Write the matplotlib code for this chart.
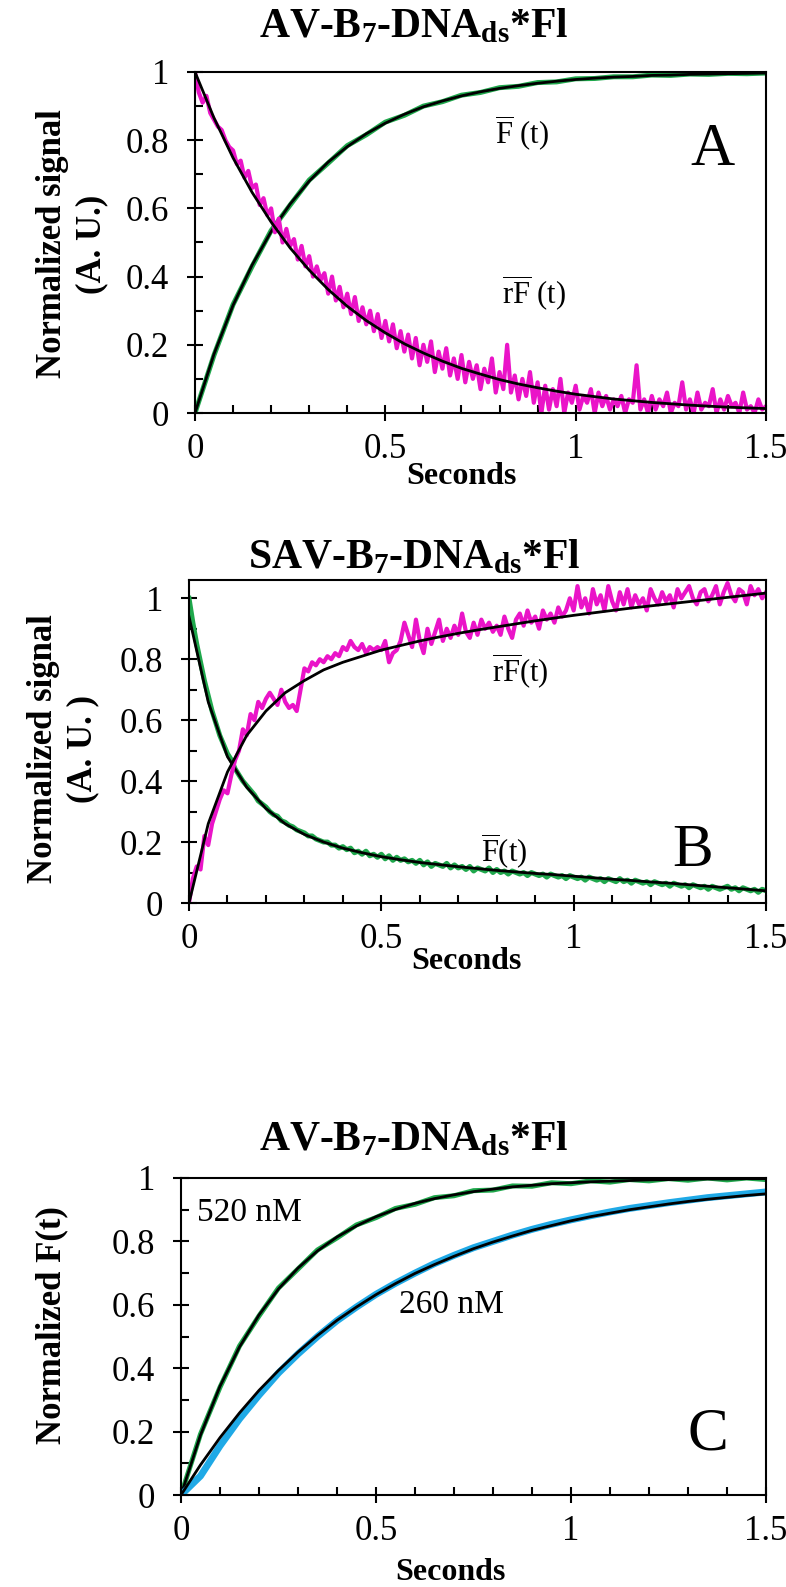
import matplotlib
matplotlib.use("Agg")
import matplotlib.pyplot as plt
from matplotlib.ticker import MultipleLocator

plt.rcParams['font.family'] = ['Liberation Serif', 'DejaVu Serif']
plt.rcParams['mathtext.fontset'] = 'custom'
plt.rcParams['mathtext.rm'] = 'Liberation Serif'
plt.rcParams['mathtext.it'] = 'Liberation Serif:italic'
plt.rcParams['mathtext.bf'] = 'Liberation Serif:bold'

MAGENTA = '#ea14c8'
GREEN = '#1fa84c'
BLUE = '#1fa9e6'

# ---- time grids (s) ----
t_fit = [i * 0.05 for i in range(31)]
t_raw = [i * 0.01 for i in range(151)]

# ---- Panel A: AV-B7-DNAds*Fl ----
a_F_fit = [0.0, 0.173, 0.316, 0.434, 0.532, 0.613, 0.680, 0.736, 0.781, 0.819,
           0.850, 0.876, 0.898, 0.915, 0.930, 0.942, 0.952, 0.960, 0.967, 0.973,
           0.978, 0.982, 0.985, 0.987, 0.990, 0.991, 0.993, 0.994, 0.995, 0.996, 0.997]
a_F_data = [0.0, 0.170, 0.318, 0.430, 0.535, 0.610, 0.683, 0.733, 0.784, 0.816,
            0.853, 0.873, 0.900, 0.913, 0.932, 0.940, 0.954, 0.958, 0.969, 0.971,
            0.980, 0.981, 0.986, 0.986, 0.991, 0.990, 0.994, 0.993, 0.996, 0.995, 0.997]
a_rF_fit = [1.0, 0.865, 0.748, 0.647, 0.560, 0.484, 0.419, 0.362, 0.313, 0.271,
            0.235, 0.203, 0.176, 0.152, 0.131, 0.114, 0.098, 0.085, 0.074, 0.064,
            0.055, 0.048, 0.041, 0.036, 0.031, 0.027, 0.023, 0.020, 0.017, 0.015, 0.013]
a_rF_data = [1.00, 0.94, 0.91, 0.93, 0.88, 0.86, 0.84, 0.83, 0.80, 0.78,
             0.77, 0.73, 0.74, 0.69, 0.71, 0.66, 0.67, 0.61, 0.63, 0.58,
             0.60, 0.53, 0.57, 0.50, 0.54, 0.49, 0.51, 0.45, 0.49, 0.43,
             0.46, 0.40, 0.43, 0.39, 0.41, 0.35, 0.40, 0.33, 0.37, 0.31,
             0.35, 0.29, 0.34, 0.27, 0.31, 0.26, 0.30, 0.24, 0.29, 0.22,
             0.27, 0.21, 0.26, 0.19, 0.24, 0.18, 0.23, 0.16, 0.22, 0.14,
             0.20, 0.15, 0.21, 0.12, 0.18, 0.13, 0.19, 0.11, 0.16, 0.10,
             0.17, 0.09, 0.15, 0.10, 0.14, 0.07, 0.13, 0.09, 0.16, 0.06,
             0.12, 0.07, 0.20, 0.06, 0.11, 0.04, 0.10, 0.05, 0.12, 0.03,
             0.09, 0.00, 0.08, 0.01, 0.07, 0.02, 0.10, 0.00, 0.06, 0.03,
             0.08, 0.01, 0.05, 0.03, 0.07, 0.00, 0.06, 0.02, 0.05, 0.01,
             0.04, 0.02, 0.05, 0.00, 0.04, 0.03, 0.14, 0.01, 0.04, 0.00,
             0.05, 0.01, 0.04, 0.02, 0.06, 0.00, 0.03, 0.02, 0.09, 0.01,
             0.04, 0.00, 0.06, 0.01, 0.03, 0.02, 0.07, 0.00, 0.04, 0.01,
             0.05, 0.02, 0.03, 0.00, 0.06, 0.01, 0.02, 0.00, 0.04, 0.01,
             0.02]

# ---- Panel B: SAV-B7-DNAds*Fl ----
b_F_fit = [0.94, 0.66, 0.48, 0.38, 0.31, 0.26, 0.225, 0.20, 0.18, 0.165,
           0.152, 0.142, 0.133, 0.126, 0.119, 0.113, 0.107, 0.102, 0.097, 0.093,
           0.088, 0.083, 0.078, 0.074, 0.069, 0.065, 0.060, 0.055, 0.050, 0.045, 0.040]
b_F_data = [1.00, 0.92, 0.85, 0.79, 0.73, 0.68, 0.63, 0.59, 0.55, 0.52,
            0.49, 0.47, 0.44, 0.42, 0.40, 0.385, 0.37, 0.355, 0.335, 0.325,
            0.315, 0.30, 0.29, 0.285, 0.27, 0.265, 0.255, 0.25, 0.24, 0.235,
            0.23, 0.22, 0.22, 0.21, 0.205, 0.20, 0.20, 0.19, 0.19, 0.18,
            0.185, 0.175, 0.18, 0.165, 0.17, 0.16, 0.17, 0.155, 0.16, 0.15,
            0.16, 0.145, 0.155, 0.14, 0.15, 0.14, 0.145, 0.135, 0.14, 0.13,
            0.14, 0.125, 0.135, 0.12, 0.13, 0.125, 0.12, 0.13, 0.115, 0.125,
            0.115, 0.12, 0.11, 0.12, 0.105, 0.115, 0.11, 0.105, 0.115, 0.10,
            0.11, 0.10, 0.105, 0.095, 0.105, 0.10, 0.095, 0.10, 0.09, 0.10,
            0.095, 0.09, 0.095, 0.085, 0.095, 0.09, 0.085, 0.09, 0.08, 0.09,
            0.085, 0.08, 0.085, 0.075, 0.085, 0.08, 0.075, 0.08, 0.07, 0.08,
            0.075, 0.07, 0.08, 0.07, 0.075, 0.065, 0.075, 0.07, 0.065, 0.07,
            0.06, 0.07, 0.065, 0.06, 0.065, 0.055, 0.065, 0.06, 0.055, 0.06,
            0.05, 0.06, 0.055, 0.05, 0.055, 0.045, 0.055, 0.05, 0.045, 0.05,
            0.055, 0.045, 0.05, 0.04, 0.05, 0.045, 0.04, 0.045, 0.035, 0.045,
            0.04]
b_rF_fit = [0.0, 0.26, 0.43, 0.55, 0.63, 0.69, 0.73, 0.765, 0.79, 0.81,
            0.83, 0.845, 0.86, 0.873, 0.885, 0.896, 0.906, 0.916, 0.926, 0.935,
            0.944, 0.952, 0.96, 0.968, 0.975, 0.982, 0.989, 0.996, 1.003, 1.01, 1.017]
b_rF_data = [0.00, 0.08, 0.12, 0.11, 0.22, 0.19, 0.26, 0.30, 0.34, 0.37,
             0.36, 0.42, 0.47, 0.50, 0.57, 0.55, 0.62, 0.60, 0.66, 0.64,
             0.67, 0.69, 0.67, 0.65, 0.70, 0.66, 0.64, 0.65, 0.63, 0.70,
             0.77, 0.76, 0.79, 0.78, 0.80, 0.79, 0.81, 0.80, 0.82, 0.81,
             0.84, 0.83, 0.86, 0.84, 0.83, 0.85, 0.82, 0.84, 0.83, 0.84,
             0.83, 0.86, 0.79, 0.82, 0.83, 0.86, 0.92, 0.88, 0.84, 0.93,
             0.86, 0.82, 0.90, 0.85, 0.89, 0.93, 0.86, 0.90, 0.87, 0.91,
             0.88, 0.95, 0.89, 0.87, 0.92, 0.88, 0.93, 0.90, 0.92, 0.89,
             0.91, 0.88, 0.94, 0.90, 0.87, 0.93, 0.95, 0.91, 0.96, 0.92,
             0.94, 0.90, 0.96, 0.93, 0.95, 0.92, 0.97, 0.94, 0.96, 1.00,
             0.96, 1.04, 0.97, 1.00, 0.95, 1.03, 0.98, 1.01, 0.96, 1.04,
             0.99, 0.96, 1.02, 0.98, 1.03, 0.97, 1.01, 0.98, 1.00, 0.96,
             1.03, 1.00, 0.98, 1.02, 0.99, 1.01, 0.97, 1.03, 1.00, 1.02,
             1.04, 1.00, 0.98, 1.02, 1.03, 0.99, 1.01, 1.04, 0.98, 1.02,
             1.05, 1.01, 0.99, 1.03, 1.02, 0.98, 1.04, 1.01, 1.03, 1.00,
             1.02]

# ---- Panel C: AV-B7-DNAds*Fl, two concentrations ----
c_520_fit = [0.0, 0.189, 0.343, 0.467, 0.568, 0.650, 0.716, 0.770, 0.814, 0.849,
             0.878, 0.901, 0.920, 0.935, 0.947, 0.957, 0.965, 0.972, 0.977, 0.982,
             0.985, 0.988, 0.990, 0.992, 0.994, 0.995, 0.996, 0.997, 0.997, 0.998, 0.998]
c_520_data = [0.0, 0.192, 0.340, 0.470, 0.565, 0.653, 0.713, 0.773, 0.811, 0.852,
              0.875, 0.904, 0.917, 0.938, 0.944, 0.960, 0.962, 0.975, 0.974, 0.985,
              0.982, 0.991, 0.987, 0.995, 0.991, 0.998, 0.993, 1.0, 0.994, 1.0, 0.995]
c_260_fit = [0.0, 0.095, 0.181, 0.259, 0.330, 0.393, 0.451, 0.503, 0.551, 0.593,
             0.632, 0.667, 0.699, 0.727, 0.753, 0.777, 0.798, 0.817, 0.835, 0.850,
             0.865, 0.878, 0.889, 0.900, 0.909, 0.918, 0.926, 0.933, 0.939, 0.945, 0.950]
c_260_data = [0.0, 0.06, 0.155, 0.24, 0.315, 0.385, 0.445, 0.50, 0.55, 0.593,
              0.633, 0.668, 0.70, 0.73, 0.756, 0.78, 0.80, 0.82, 0.838, 0.854,
              0.868, 0.881, 0.893, 0.904, 0.913, 0.922, 0.93, 0.938, 0.944, 0.95, 0.956]

TITLE = r"AV-B$_{\mathbf{7}}$-DNA$_{\mathbf{ds}}$*Fl"
TITLE_B = r"SAV-B$_{\mathbf{7}}$-DNA$_{\mathbf{ds}}$*Fl"

W, H = 786.0, 1587.0
fig = plt.figure(figsize=(W / 100, H / 100), dpi=100)


def add_ax(left, right, top, bottom):
    return fig.add_axes([left / W, 1 - bottom / H, (right - left) / W, (bottom - top) / H])


def style_axes(ax, ytop, xlab_x, xlab_y):
    ax.set_xlim(0, 1.5)
    ax.set_ylim(0, ytop)
    ax.xaxis.set_major_locator(MultipleLocator(0.5))
    ax.xaxis.set_minor_locator(MultipleLocator(0.1))
    ax.yaxis.set_major_locator(MultipleLocator(0.2))
    ax.yaxis.set_minor_locator(MultipleLocator(0.1))
    ax.xaxis.set_major_formatter(plt.FuncFormatter(lambda v, p: f"{v:g}"))
    ax.yaxis.set_major_formatter(plt.FuncFormatter(lambda v, p: f"{v:g}"))
    for s in ax.spines.values():
        s.set_linewidth(1.5)
    ax.tick_params(which='major', direction='inout', length=11, width=1.5,
                   labelsize=25, top=False, right=False)
    ax.tick_params(which='minor', direction='in', length=6, width=1.5,
                   top=False, right=False)
    ax.tick_params(axis='x', which='major', pad=9)
    ax.tick_params(axis='y', which='major', pad=13)
    ax.set_xlabel('Seconds', fontsize=23, fontweight='bold', va='center')
    ax.xaxis.set_label_coords(xlab_x / 1.5, xlab_y)


# Panel A
ax1 = add_ax(195, 766, 72, 413)
ax1.plot(t_fit, a_F_data, color=GREEN, lw=3.6)
ax1.plot(t_fit, a_F_fit, color='black', lw=2.0)
ax1.plot(t_raw, a_rF_data, color=MAGENTA, lw=3.0)
ax1.plot(t_fit, a_rF_fit, color='black', lw=2.0)
style_axes(ax1, 1.0, 0.70, -0.185)
ax1.text(0.86, 0.82, r"$\overline{\mathrm{F}}$ (t)", fontsize=22, ha='center', va='center')
ax1.text(0.89, 0.35, r"$\overline{\mathrm{rF}}$ (t)", fontsize=22, ha='center', va='center')
ax1.text(1.36, 0.77, 'A', fontsize=44, ha='center', va='center')
fig.text(414 / W, 1 - 27 / H, TITLE, fontsize=30, fontweight='bold', ha='center', va='center')
fig.text(72 / W, 1 - 244 / H, 'Normalized signal\n(A. U.)', rotation=90, fontsize=25,
         fontweight='bold', ha='center', va='center', multialignment='center',
         linespacing=1.25)

# Panel B
ax2 = add_ax(189, 766, 580, 903)
ax2.plot(t_raw, b_F_data, color=GREEN, lw=3.6)
ax2.plot(t_fit, b_F_fit, color='black', lw=2.0)
ax2.plot(t_raw, b_rF_data, color=MAGENTA, lw=3.0)
ax2.plot(t_fit, b_rF_fit, color='black', lw=2.0)
style_axes(ax2, 1.06, 0.72, -0.18)
ax2.text(0.86, 0.76, r"$\overline{\mathrm{rF}}$(t)", fontsize=22, ha='center', va='center')
ax2.text(0.82, 0.17, r"$\overline{\mathrm{F}}$(t)", fontsize=22, ha='center', va='center')
ax2.text(1.31, 0.17, 'B', fontsize=44, ha='center', va='center')
fig.text(414 / W, 1 - 558 / H, TITLE_B, fontsize=30, fontweight='bold', ha='center', va='center')
fig.text(63 / W, 1 - 749 / H, 'Normalized signal\n(A. U. )', rotation=90, fontsize=25,
         fontweight='bold', ha='center', va='center', multialignment='center',
         linespacing=1.25)

# Panel C
ax3 = add_ax(181, 766, 1178, 1495)
ax3.plot(t_fit, c_520_data, color=GREEN, lw=3.6)
ax3.plot(t_fit, c_520_fit, color='black', lw=2.0)
ax3.plot(t_fit, c_260_data, color=BLUE, lw=5.0)
ax3.plot(t_fit, c_260_fit, color='black', lw=2.0)
style_axes(ax3, 1.0, 0.69, -0.245)
ax3.text(0.04, 0.89, '520 nM', fontsize=24, ha='left', va='center')
ax3.text(0.56, 0.60, '260 nM', fontsize=24, ha='left', va='center')
ax3.text(1.35, 0.19, 'C', fontsize=44, ha='center', va='center')
fig.text(414 / W, 1 - 1140 / H, TITLE, fontsize=30, fontweight='bold', ha='center', va='center')
fig.text(52 / W, 1 - 1325 / H, 'Normalized F(t)', rotation=90, fontsize=25,
         fontweight='bold', ha='center', va='center')

fig.savefig('out.png', dpi=100)
